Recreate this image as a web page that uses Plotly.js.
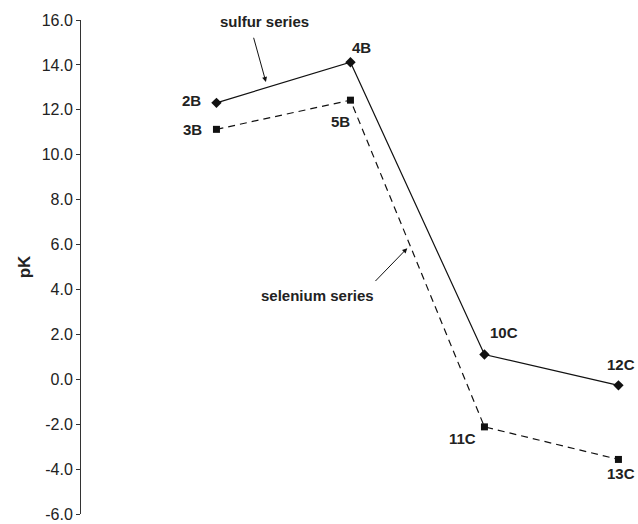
<!DOCTYPE html>
<html>
<head>
<meta charset="utf-8">
<script src="https://cdn.plot.ly/plotly-3.0.1.min.js"></script>
<style>html,body{margin:0;padding:0;background:#fff;}#chart{width:638px;height:524px;}</style>
</head>
<body>
<div id="chart"></div>
<script>
const positions = [0, 1, 2, 3];
const sulfurLabels = ['2B', '4B', '10C', '12C'];
const sulfurValues = [12.31, 14.12, 1.10, -0.27];
const seleniumLabels = ['3B', '5B', '11C', '13C'];
const seleniumValues = [11.13, 12.43, -2.12, -3.57];
const tickValues = [-6, -4, -2, 0, 2, 4, 6, 8, 10, 12, 14, 16];
const tickLabels = ['-6.0', '-4.0', '-2.0', '0.0', '2.0', '4.0', '6.0', '8.0', '10.0', '12.0', '14.0', '16.0'];

const sulfurShift = [[-25, 2], [11, 15], [20, 22], [3, 21]];
const seleniumShift = [[-24, 0], [-10, -21], [-22, -12], [3, -14]];

const FONT = 'Arial, "Liberation Sans", Helvetica, sans-serif';

const traces = [
  {
    x: positions, y: sulfurValues, type: 'scatter', mode: 'lines+markers',
    line: {color: '#111', width: 1.2},
    marker: {symbol: 'diamond', size: 8, color: '#111'},
    hoverinfo: 'skip', showlegend: false
  },
  {
    x: positions, y: seleniumValues, type: 'scatter', mode: 'lines+markers',
    line: {color: '#111', width: 1.2, dash: '7px,5px'},
    marker: {symbol: 'square', size: 7, color: '#111'},
    hoverinfo: 'skip', showlegend: false
  }
];

const annotations = [];
positions.forEach((p, i) => {
  annotations.push({x: p, y: sulfurValues[i], xref: 'x', yref: 'y', text: '<b>' + sulfurLabels[i] + '</b>',
    showarrow: false, xshift: sulfurShift[i][0], yshift: sulfurShift[i][1],
    font: {family: FONT, size: 15, color: '#222'}});
  annotations.push({x: p, y: seleniumValues[i], xref: 'x', yref: 'y', text: '<b>' + seleniumLabels[i] + '</b>',
    showarrow: false, xshift: seleniumShift[i][0], yshift: seleniumShift[i][1],
    font: {family: FONT, size: 15, color: '#222'}});
});
// series callouts
annotations.push({x: 0.369, y: 13.24, xref: 'x', yref: 'y', text: '', showarrow: true,
  ax: -12.7, ay: -45.7, arrowhead: 2, arrowsize: 1, arrowwidth: 1, arrowcolor: '#111', standoff: 0});
annotations.push({x: 0.362, y: 15.92, xref: 'x', yref: 'y', text: '<b>sulfur series</b>', showarrow: false,
  font: {family: FONT, size: 15, color: '#222'}});
annotations.push({x: 1.424, y: 5.84, xref: 'x', yref: 'y', text: '', showarrow: true,
  ax: -33.3, ay: 34.4, arrowhead: 2, arrowsize: 1, arrowwidth: 1, arrowcolor: '#111', standoff: 0});
annotations.push({x: 0.757, y: 3.72, xref: 'x', yref: 'y', text: '<b>selenium series</b>', showarrow: false,
  font: {family: FONT, size: 15, color: '#222'}});

const layout = {
  width: 638, height: 524,
  margin: {l: 81, r: 0, t: 19.5, b: 9.5},
  paper_bgcolor: '#fff', plot_bgcolor: '#fff',
  xaxis: {range: [-1.011, 3.146], visible: false, showgrid: false, zeroline: false},
  yaxis: {
    range: [-6, 16], tickmode: 'array', tickvals: tickValues, ticktext: tickLabels,
    showline: true, linecolor: '#333', linewidth: 1,
    ticks: 'outside', ticklen: 4, tickcolor: '#333',
    showgrid: false, zeroline: false,
    tickfont: {family: FONT, size: 16, color: '#222'},
    title: {text: '<b>pK</b>', font: {family: FONT, size: 17, color: '#222'}, standoff: 6},
    automargin: false
  },
  annotations: annotations,
  showlegend: false
};

Plotly.newPlot('chart', traces, layout, {staticPlot: true});
</script>
</body>
</html>
